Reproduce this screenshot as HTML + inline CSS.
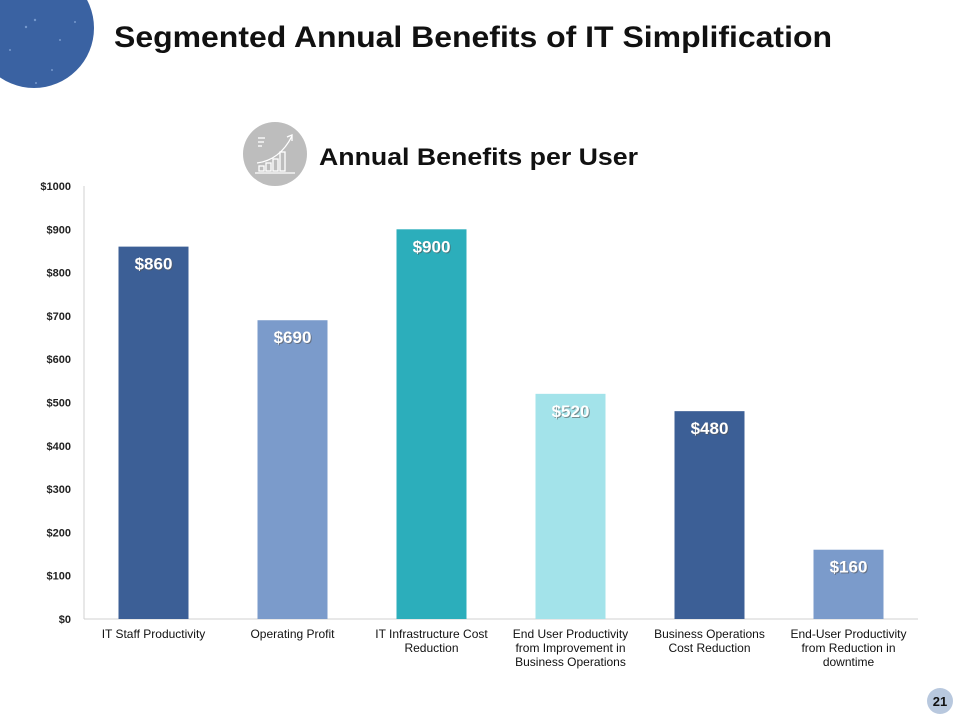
<!DOCTYPE html>
<html><head><meta charset="utf-8"><style>
body{margin:0;width:960px;height:720px;background:#fff;overflow:hidden;font-family:"Liberation Sans",Arial,sans-serif;position:relative}
</style></head><body>
<svg width="960" height="720" style="position:absolute;left:0;top:0">
  <circle cx="34" cy="28" r="60" fill="#3a62a2"/>
  <g fill="#8fb0e0" opacity="0.7">
    <circle cx="35" cy="20" r="1.2"/><circle cx="26" cy="27" r="1.2"/><circle cx="60" cy="40" r="1"/><circle cx="10" cy="50" r="1"/><circle cx="75" cy="22" r="1"/><circle cx="52" cy="70" r="1"/><circle cx="36" cy="83" r="1"/>
  </g>
  <text x="114" y="47" font-size="30" font-weight="bold" fill="#111" textLength="718" lengthAdjust="spacingAndGlyphs" font-family="Liberation Sans, Arial, sans-serif">Segmented Annual Benefits of IT Simplification</text>
  <g>
    <circle cx="275" cy="154" r="32" fill="#bdbdbd"/>
    <g stroke="#fff" stroke-width="1.3" fill="none">
      <line x1="258" y1="138" x2="265" y2="138"/><line x1="258" y1="142" x2="264" y2="142"/><line x1="258" y1="146" x2="262" y2="146"/>
      <rect x="259" y="166" width="5" height="5"/><rect x="266" y="163" width="5" height="8"/><rect x="273" y="159" width="5" height="12"/><rect x="280" y="152" width="5" height="19"/>
      <line x1="255" y1="173" x2="295" y2="173"/>
      <path d="M257 163 Q280 160 292 136"/><path d="M287 137 L292 135 L292 141"/>
    </g>
  </g>
  <text x="319" y="165" font-size="24" font-weight="bold" fill="#111" textLength="319" lengthAdjust="spacingAndGlyphs" font-family="Liberation Sans, Arial, sans-serif">Annual Benefits per User</text>
  <g id="chart"></g>
  <circle cx="940" cy="701" r="13" fill="#b8c8de"/>
  <text x="940" y="706" font-size="13" font-weight="bold" fill="#111" text-anchor="middle" font-family="Liberation Sans, Arial, sans-serif">21</text>
</svg>
<script>
const categories=[["IT Staff Productivity"],["Operating Profit"],["IT Infrastructure Cost","Reduction"],["End User Productivity","from Improvement in","Business Operations"],["Business Operations","Cost Reduction"],["End-User Productivity","from Reduction in","downtime"]];
const values=[860,690,900,520,480,160];
const valueLabels=["$860","$690","$900","$520","$480","$160"];
const colors=["#3c5f96","#7b9bcb","#2caebb","#a3e3ea","#3c5f96","#7b9bcb"];
const ticks=[0,100,200,300,400,500,600,700,800,900,1000];
const tickLabels=["$0","$100","$200","$300","$400","$500","$600","$700","$800","$900","$1000"];
const NS="http://www.w3.org/2000/svg";
const g=document.getElementById('chart');
const x0=84,x1=918,y0=619,y1=186,vmax=1000;
const band=(x1-x0)/categories.length;
const yS=v=>y0-(v/vmax)*(y0-y1);
const xC=i=>x0+band*(i+0.5);
function mk(t,a){const e=document.createElementNS(NS,t);for(const k in a)e.setAttribute(k,a[k]);g.appendChild(e);return e;}
const ax=mk('line',{x1:x0,y1:y1,x2:x0,y2:y0,stroke:'#d0d0d0'});


const bx=mk('line',{x1:x0,y1:y0,x2:x1,y2:y0,stroke:'#d0d0d0'});


ticks.forEach((v,i)=>{
  const t=mk('text',{x:71,y:yS(v)+4,'font-size':11,'font-weight':'bold','text-anchor':'end',fill:'#222','font-family':'Liberation Sans, Arial, sans-serif'});
  t.textContent=tickLabels[i];
  
  
});
values.forEach((v,i)=>{
  const w=70,cx=xC(i);
  const r=mk('rect',{x:cx-w/2,y:yS(v),width:w,height:y0-yS(v),fill:colors[i]});
  
  
  const sh=mk('text',{x:cx+1,y:yS(v)+24,'font-size':17,'font-weight':'bold','text-anchor':'middle',fill:'#555','font-family':'Liberation Sans, Arial, sans-serif',opacity:0.6});
  sh.textContent=valueLabels[i];
  
  
  const l=mk('text',{x:cx,y:yS(v)+23,'font-size':17,'font-weight':'bold','text-anchor':'middle',fill:'#fff','font-family':'Liberation Sans, Arial, sans-serif'});
  l.textContent=valueLabels[i];
  
  
  categories[i].forEach((line,j)=>{
    const c=mk('text',{x:cx,y:638+j*14,'font-size':12,'text-anchor':'middle',fill:'#111','font-family':'Liberation Sans, Arial, sans-serif'});
    c.textContent=line;
    
    
  });
});
</script>
</body></html>
